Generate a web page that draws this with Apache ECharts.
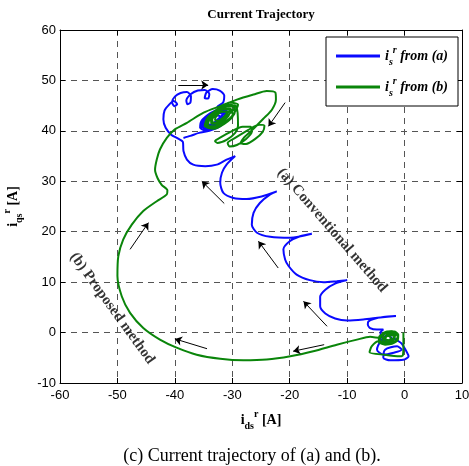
<!DOCTYPE html>
<html>
<head>
<meta charset="utf-8">
<script src="https://cdn.jsdelivr.net/npm/echarts@6/dist/echarts.min.js"></script>
<style>html,body{margin:0;padding:0;background:#fff}#c{width:469px;height:466px}</style>
</head>
<body>
<div id="c"></div>
<script>
// ---- axes ----
const xRange = [-60, 10];
const yRange = [-10, 60];
const tickStep = 10;

// ---- (a) conventional method : blue trajectory [id, iq] ----
const blueTangle = [[-2.0,-1.0],[-1.2,-1.6],[-0.5,-2.2],[0.4,-3.9],[0.7,-4.7],[-0.2,-5.4],[-2.5,-5.5],[-3.7,-5.0],[-3.4,-3.4],[-1.3,-2.7],[-0.5,-3.4],[-1.9,-4.0],[-3.7,-4.4],[-4.8,-3.4],[-4.0,-1.4],[-3.0,-0.5],[-2.2,-1.2],[-3.2,-1.8],[-4.0,-0.8],[-4.2,0.0],[-3.7,0.6]];
const blueScallops = [[-4.8,0.6],[-6.0,0.9],[-6.4,1.6],[-6.3,2.2],[-5.4,2.7],[-3.7,3.1],[-1.5,3.3],
  [-4.25,3.0],[-7.2,2.6],[-10.0,2.4],[-12.1,2.8],[-13.8,3.8],[-14.7,5.2],[-14.7,7.1],[-13.8,8.5],[-12.1,9.7],[-10.0,10.4],
  [-11.8,10.2],[-14.1,10.0],[-16.5,10.4],[-18.8,11.5],[-20.2,13.2],[-20.8,14.5],[-21.1,16.5],[-20.0,18.1],[-18.2,19.1],[-16.15,19.6],
  [-19.9,18.8],[-23.4,19.0],[-25.7,19.8],[-26.6,21.4],[-26.3,23.75],[-25.2,25.7],[-23.4,27.4],[-22.25,28.0],
  [-24.9,27.0],[-27.5,26.5],[-29.8,26.7],[-31.55,27.7],[-32.1,29.7],[-31.8,31.7],[-31.0,33.3],[-29.5,35.0],
  [-31.0,34.3],[-32.7,33.3],[-34.7,33.0],[-36.8,33.3],[-37.9,34.3],[-38.5,36.0],[-38.6,37.8]];
const blueCluster = [[-39.5,38.5],[-40.6,39.2],[-41.6,40.6],[-42.0,42.3],[-41.8,44.0],[-41.0,45.2],[-40.2,45.9],[-39.6,45.3],[-40.1,44.9],[-40.5,45.7],[-40.0,46.8],[-39.0,47.5],[-37.9,47.7],[-37.2,46.9],[-37.3,45.6],[-37.8,45.3],[-38.0,46.0],[-37.2,47.3],[-36.0,48.0],[-34.8,48.1],[-34.0,47.3],[-34.2,46.4],[-34.8,46.5],[-34.5,47.6],[-33.4,48.3],[-32.2,48.0],[-31.4,47.0],[-31.6,45.6],[-32.6,44.8]];
const blueBlob = [[-31.2,43.9],[-32.2,44.1],[-33.9,43.2],[-35.2,41.7],[-35.4,40.5],[-34.4,40.3],[-32.7,41.2],[-31.4,42.7],
  [-31.0,44.1],[-32.0,44.4],[-33.8,43.5],[-35.4,41.9],[-35.6,40.6],[-34.6,40.1],[-32.6,41.0],[-31.2,42.5],
  [-31.5,43.7],[-32.4,43.9],[-34.0,42.9],[-35.0,41.6],[-35.1,40.7],[-34.2,40.6],[-32.8,41.4],[-31.6,42.9],
  [-31.8,43.4],[-32.6,43.6],[-33.8,42.8],[-34.7,41.6],[-34.7,40.9],[-34.0,40.8],[-32.9,41.6],[-32.0,42.7],
  [-32.3,43.0],[-33.0,43.1],[-33.9,42.4],[-34.3,41.6],[-34.0,41.2],[-33.2,41.6],[-32.5,42.3],
  [-31.1,44.0],[-32.1,44.3],[-33.9,43.3],[-35.3,41.8],[-35.5,40.5],[-34.5,40.2],[-32.7,41.1],[-31.3,42.6],
  [-32.0,41.0],[-34.0,40.0],[-35.8,39.6],[-37.3,39.0],[-38.5,38.6]];

// ---- (b) proposed method : green trajectory [id, iq] ----
const greenStart = [[-0.2,0.0],[-0.2,-2.5],[-0.3,-4.5],[-0.8,-4.7],[-3.5,-4.4],[-6.1,-3.9],[-5.7,-2.7],[-4.55,-1.73]];
const greenKnot = [[-3.6,-2.3],[-2.2,-2.2],[-1.2,-1.5],[-1.1,-0.4],[-1.8,0.2],[-3.2,0.1],[-4.4,-0.8],[-4.5,-1.8],[-3.4,-2.4],[-2.0,-2.1],[-1.2,-1.2],[-1.3,-0.2],[-2.3,0.25],[-3.6,0.0],[-4.3,-1.0],[-4.0,-2.0],[-2.8,-2.2],[-1.6,-1.7],[-1.2,-0.8],[-1.8,-0.1],[-3.0,0.0],
  [-3.8,-0.7],[-3.8,-1.6],[-3.0,-1.9],[-2.0,-1.6],[-1.7,-0.9],[-2.3,-0.5],[-3.2,-0.8],[-3.3,-1.4],[-2.6,-1.5],[-2.4,-1.0],[-3.0,-0.6],[-3.6,-1.1],[-3.1,-1.6],[-2.1,-1.3],[-1.6,-0.5],[-2.6,-0.2],[-3.9,-0.4],[-4.25,-1.05]];
const greenSweep = [[-6.0,-0.85],[-8.3,-1.4],[-11.8,-2.4],[-15.9,-3.7],[-19.9,-4.7],[-24.0,-5.36],[-28.1,-5.5],[-32.1,-5.2],[-36.2,-4.4],[-39.7,-3.0],[-42.6,-1.4],[-45.5,0.9],[-47.8,3.9],[-49.25,7.2],[-50.0,11.2],[-49.85,15.1],[-49.0,18.45],[-47.5,21.4],[-45.5,24.1],[-43.15,26.05],[-41.4,27.4],[-41.3,28.2],[-42.3,29.3],[-43.0,30.6],[-43.45,32.3],[-43.15,34.3],[-42.6,36.3],[-41.4,38.6],[-40.0,40.3],[-37.9,41.6],[-35.0,43.6],[-32.1,44.9],[-29.2,46.2],[-26.3,47.2],[-24.0,47.9],[-22.5,47.6],[-22.4,46.2],[-23.1,44.2],[-24.6,42.4]];
const greenLobes = [[-26.5,40.2],[-28.0,38.6],[-28.5,37.6],[-27.6,37.4],[-26.0,38.4],[-24.7,39.8],[-24.4,41.0],[-25.3,41.2],[-27.2,40.2],[-29.5,38.6],[-30.8,37.6],[-30.5,36.9],[-29.2,37.2],[-27.6,38.4],[-26.6,39.8],[-26.8,40.8],[-28.2,40.8],[-30.3,39.8],[-32.2,38.6],[-33.0,38.0],[-32.6,37.6],[-31.0,38.2],[-29.5,39.6],[-29.0,41.0]];
const greenBlob = [[-29.3,44.9],[-30.6,45.15],[-32.6,44.0],[-34.2,42.3],[-34.5,40.9],[-33.2,40.65],[-31.2,41.8],[-29.6,43.5],
  [-29.6,44.6],[-30.8,44.9],[-32.8,43.8],[-34.0,42.2],[-34.2,41.0],[-33.0,40.9],[-31.0,42.0],[-29.8,43.3],
  [-29.0,45.2],[-30.4,45.6],[-32.4,44.4],[-34.3,42.6],[-34.8,41.0],[-33.4,40.4],[-31.4,41.4],[-29.9,43.0],
  [-30.3,44.2],[-31.5,44.3],[-32.8,43.3],[-33.5,42.2],[-33.3,41.6],[-32.3,41.8],[-31.0,42.8],
  [-30.8,43.8],[-31.8,43.8],[-32.8,42.9],[-33.0,42.2],[-32.5,42.0],[-31.5,42.7],[-31.0,43.4],
  [-30.2,44.3],[-31.2,44.5],[-32.9,43.4],[-33.7,42.1],[-33.6,41.4],[-32.6,41.5],[-31.3,42.4],[-30.3,43.6],
  [-29.5,44.8],[-30.9,45.3],[-32.7,44.2],[-34.1,42.5],[-34.4,41.1],[-33.3,40.8],[-31.6,41.9],[-30.5,43.2]];

// ---- direction arrows [from, to] ----
const arrows = [
  [[-39.4,49.1],[-34.2,49.1]],
  [[-20.8,45.6],[-23.7,40.9]],
  [[-47.8,16.5],[-44.6,21.8]],
  [[-31.4,25.6],[-35.3,30.0]],
  [[-34.4,-3.2],[-40.0,-1.25]],
  [[-22.0,12.8],[-25.45,18.1]],
  [[-13.5,1.25],[-17.6,6.2]],
  [[-14.0,-2.4],[-19.4,-3.7]]
];

// ---- annotations ----
const notes = [
  {pos: [-12.6, 20.3], text: '(a) Conventional method', angle: -49},
  {pos: [-50.9, 4.8], text: '(b) Proposed method', angle: -54}
];

const seriesNames = ['from (a)', 'from (b)'];
const titleText = 'Current Trajectory';
const captionText = '(c) Current trajectory of (a) and (b).';

const SERIF = "'Liberation Serif','Times New Roman',serif";
const SANS = "'Liberation Sans',Arial,Helvetica,sans-serif";
const BLUE = '#0a0aff', GREEN = '#0a850a';

const blueData = blueTangle.concat(blueScallops, blueCluster, blueBlob);
const greenData = greenStart.concat(greenKnot, greenSweep, greenLobes, greenBlob);

const subRich = {
  i: {fontFamily: SERIF, fontWeight: 'bold', fontSize: 14, lineHeight: 22, color: '#000'},
  sub: {fontFamily: SERIF, fontWeight: 'bold', fontSize: 10, lineHeight: 12, verticalAlign: 'bottom', color: '#000'},
  sup: {fontFamily: SERIF, fontWeight: 'bold', fontSize: 10, lineHeight: 12, verticalAlign: 'top', color: '#000'},
  t: {fontFamily: SERIF, fontWeight: 'bold', fontSize: 14, lineHeight: 22, color: '#000'}
};
const legRich = {
  i: {fontFamily: SERIF, fontWeight: 'bold', fontStyle: 'italic', fontSize: 14, lineHeight: 22, color: '#000'},
  sub: {fontFamily: SERIF, fontWeight: 'bold', fontStyle: 'italic', fontSize: 10, lineHeight: 12, verticalAlign: 'bottom', color: '#000'},
  sup: {fontFamily: SERIF, fontWeight: 'bold', fontStyle: 'italic', fontSize: 10, lineHeight: 12, verticalAlign: 'top', color: '#000'},
  t: {fontFamily: SERIF, fontWeight: 'bold', fontStyle: 'italic', fontSize: 14, lineHeight: 22, color: '#000'}
};

const gridLine = {show: true, lineStyle: {color: '#555', width: 1, type: [6, 5]}};
function baseAxis(range, extra) {
  return Object.assign({
    type: 'value', min: range[0], max: range[1], interval: tickStep,
    axisLine: {show: true, onZero: false, lineStyle: {color: '#000', width: 1}},
    axisTick: {show: true, inside: true, length: 5, lineStyle: {color: '#000'}},
    splitLine: {show: false}
  }, extra);
}

const chart = echarts.init(document.getElementById('c'), null, {renderer: 'canvas'});
chart.setOption({
  animation: false,
  backgroundColor: '#fff',
  grid: {left: 60, right: 7, top: 30, bottom: 83, show: false, containLabel: false, outerBoundsMode: 'none'},
  xAxis: [
    baseAxis(xRange, {position: 'bottom', splitLine: gridLine,
      axisLabel: {color: '#000', fontFamily: SANS, fontSize: 13, margin: 6},
      name: '{i|i}{sub|ds}{sup|r}{t| [A]}', nameLocation: 'middle', nameGap: 26,
      nameTextStyle: {rich: subRich}}),
    baseAxis(xRange, {position: 'top', axisLabel: {show: false}})
  ],
  yAxis: [
    baseAxis(yRange, {position: 'left', splitLine: gridLine,
      axisLabel: {color: '#000', fontFamily: SANS, fontSize: 13, margin: 4},
      name: '{i|i}{sub|qs}{sup|r}{t| [A]}', nameLocation: 'middle', nameGap: 36,
      nameTextStyle: {rich: subRich}}),
    baseAxis(yRange, {position: 'right', axisLabel: {show: false}})
  ],
  legend: {
    data: seriesNames, orient: 'vertical', right: 11, top: 37, align: 'left',
    padding: [8, 10, 8, 10], itemGap: 9, itemWidth: 44, itemHeight: 3, icon: 'rect',
    borderColor: '#000', borderWidth: 1, backgroundColor: '#fff',
    formatter: n => '{i|i}{sub|s}{sup|r}{t| ' + n + '}',
    textStyle: {rich: legRich}
  },
  graphic: [
    {type: 'text', x: 261, y: 15, style: {text: titleText, fill: '#000', font: 'bold 13px ' + SERIF, textAlign: 'center', textVerticalAlign: 'middle'}},
    {type: 'text', x: 252, y: 456, style: {text: captionText, fill: '#000', font: '18px ' + SERIF, textAlign: 'center', textVerticalAlign: 'middle'}}
  ],
  series: [
    {name: seriesNames[0], type: 'line', data: blueData, symbol: 'none', smooth: 0.25,
      lineStyle: {color: BLUE, width: 2}, itemStyle: {color: BLUE}, z: 3},
    {name: seriesNames[1], type: 'line', data: greenData, symbol: 'none', smooth: 0.25,
      lineStyle: {color: GREEN, width: 2}, itemStyle: {color: GREEN}, z: 4},
    {type: 'lines', coordinateSystem: 'cartesian2d', silent: true, z: 5,
      symbol: ['none', 'arrow'], symbolSize: 7,
      lineStyle: {color: '#000', width: 1, opacity: 1},
      data: arrows.map(a => ({coords: a}))},
    {type: 'scatter', silent: true, symbolSize: 0, z: 6,
      data: notes.map(n => ({value: n.pos, label: {formatter: n.text, rotate: n.angle}})),
      label: {show: true, position: 'inside', color: '#000', fontFamily: SERIF, fontWeight: 'bold', fontSize: 15}}
  ]
});
</script>
</body>
</html>
